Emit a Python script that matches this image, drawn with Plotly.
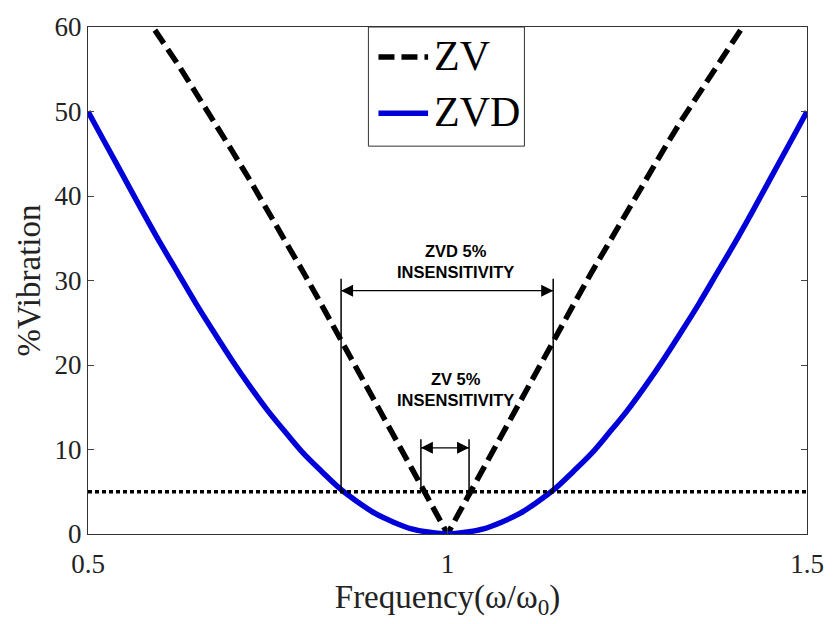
import plotly.graph_objects as go

# Normalised frequency samples (omega / omega_0)
freq = [0.5, 0.525, 0.55, 0.575, 0.6, 0.625, 0.65, 0.675, 0.7, 0.725, 0.75,
        0.775, 0.8, 0.825, 0.85, 0.875, 0.9, 0.925, 0.95, 0.975, 1.0,
        1.025, 1.05, 1.075, 1.1, 1.125, 1.15, 1.175, 1.2, 1.225, 1.25,
        1.275, 1.3, 1.325, 1.35, 1.375, 1.4, 1.425, 1.45, 1.475, 1.5]

# Residual vibration (%) of the ZV shaper
zv_vib = [70.7, 67.9, 64.9, 61.9, 58.8, 55.6, 52.2, 48.9, 45.4, 41.9, 38.3,
          34.6, 30.9, 27.1, 23.3, 19.5, 15.6, 11.8, 7.8, 3.9, 0.0,
          3.9, 7.8, 11.8, 15.6, 19.5, 23.3, 27.1, 30.9, 34.6, 38.3,
          41.9, 45.4, 48.9, 52.2, 55.6, 58.8, 61.9, 64.9, 67.9, 70.7]

# Residual vibration (%) of the ZVD shaper
zvd_vib = [50.0, 46.1, 42.2, 38.3, 34.5, 30.9, 27.3, 23.9, 20.6, 17.5, 14.6,
           12.0, 9.5, 7.4, 5.4, 3.8, 2.4, 1.4, 0.6, 0.2, 0.0,
           0.2, 0.6, 1.4, 2.4, 3.8, 5.4, 7.4, 9.5, 12.0, 14.6,
           17.5, 20.6, 23.9, 27.3, 30.9, 34.5, 38.3, 42.2, 46.1, 50.0]

# Tolerable vibration level and the insensitivity bands it defines
vib_limit = 5.0
zvd_band = [0.852, 1.147]
zv_band = [0.963, 1.030]
zvd_bracket_top = 30.2
zvd_arrow_level = 28.8
zv_bracket_top = 11.2
zv_arrow_level = 10.2

series_names = ["ZV", "ZVD"]
x_ticks = [0.5, 1.0, 1.5]
x_tick_text = ["0.5", "1", "1.5"]
y_ticks = [0, 10, 20, 30, 40, 50, 60]

SERIF = "Liberation Serif, Times New Roman, serif"
NARROW = "Liberation Sans Narrow, Arial Narrow, Liberation Sans, sans-serif"

ZV_LINE = dict(color="black", width=5.5, dash="16px,7px")
ZVD_LINE = dict(color="#0000d8", width=5.5)

fig = go.Figure()

fig.add_trace(go.Scatter(
    x=freq, y=zv_vib, mode="lines", name=series_names[0],
    line=ZV_LINE, showlegend=False,
))
fig.add_trace(go.Scatter(
    x=freq, y=zvd_vib, mode="lines", name=series_names[1],
    line=dict(ZVD_LINE, shape="spline"), showlegend=False,
))

# Double-headed arrows spanning each insensitivity band
for band, level in ((zvd_band, zvd_arrow_level), (zv_band, zv_arrow_level)):
    fig.add_trace(go.Scatter(
        x=band, y=[level, level], mode="lines+markers",
        line=dict(color="black", width=1.3),
        marker=dict(symbol=["arrow-left", "arrow-right"], size=12,
                    color="black", line=dict(width=0)),
        showlegend=False, hoverinfo="skip",
    ))

shapes = [
    # 5% vibration threshold
    dict(type="line", xref="x", yref="y", x0=freq[0], x1=freq[-1],
         y0=vib_limit, y1=vib_limit, layer="above",
         line=dict(color="black", width=3.5, dash="4px,3px")),
]
for xb in zvd_band:
    shapes.append(dict(type="line", xref="x", yref="y", x0=xb, x1=xb,
                       y0=vib_limit, y1=zvd_bracket_top,
                       line=dict(color="black", width=1.5)))
for xb in zv_band:
    shapes.append(dict(type="line", xref="x", yref="y", x0=xb, x1=xb,
                       y0=vib_limit, y1=zv_bracket_top,
                       line=dict(color="black", width=1.5)))

# Boxed legend in the upper middle of the axes
LEG_X0, LEG_X1, LEG_Y0, LEG_Y1 = 0.390, 0.607, 0.765, 1.0
shapes.append(dict(type="rect", xref="paper", yref="paper",
                   x0=LEG_X0, x1=LEG_X1, y0=LEG_Y0, y1=LEG_Y1,
                   fillcolor="white", line=dict(color="#333333", width=1),
                   layer="above"))
legend_rows = [0.941, 0.830]
for row_y, style in zip(legend_rows, [ZV_LINE, ZVD_LINE]):
    shapes.append(dict(type="line", xref="paper", yref="paper",
                       x0=0.404, x1=0.473, y0=row_y, y1=row_y,
                       line=style, layer="above"))

annotations = []
for row_y, name in zip(legend_rows, series_names):
    annotations.append(dict(
        x=0.478, y=row_y + 0.002, xref="paper", yref="paper",
        xanchor="left", yanchor="middle", showarrow=False, text=name,
        font=dict(family=SERIF, size=42, color="black"),
    ))

annotations.append(dict(
    x=1.011, y=32.3, xref="x", yref="y", showarrow=False,
    text="ZVD 5%<br>INSENSITIVITY", align="center",
    font=dict(family=NARROW, size=16.5, color="black", weight="bold"),
))
annotations.append(dict(
    x=1.011, y=17.1, xref="x", yref="y", showarrow=False,
    text="ZV 5%<br>INSENSITIVITY", align="center",
    font=dict(family=NARROW, size=16.5, color="black", weight="bold"),
))

fig.update_layout(
    width=836, height=624,
    margin=dict(l=88, r=20, t=23, b=90),
    paper_bgcolor="white", plot_bgcolor="white",
    font=dict(family=SERIF, color="black"),
    showlegend=False,
    shapes=shapes,
    annotations=annotations,
    xaxis=dict(
        range=[0.5, 1.5], tickvals=x_ticks, ticktext=x_tick_text,
        ticks="inside", ticklen=6, showline=True, linecolor="#333333",
        linewidth=1, mirror="ticks", showgrid=False, zeroline=False,
        ticklabelstandoff=6,
        tickfont=dict(family=SERIF, size=27, color="#222222"),
        title=dict(text="Frequency(ω/ω<sub>0</sub>)", standoff=6,
                   font=dict(family=SERIF, size=33, color="#222222")),
    ),
    yaxis=dict(
        range=[0, 60], tickvals=y_ticks,
        ticks="inside", ticklen=6, showline=True, linecolor="#333333",
        linewidth=1, mirror="ticks", showgrid=False, zeroline=False,
        tickfont=dict(family=SERIF, size=27, color="#222222"),
        title=dict(text="%Vibration", standoff=4,
                   font=dict(family=SERIF, size=33, color="#222222")),
    ),
)

fig.write_html("out.html")
